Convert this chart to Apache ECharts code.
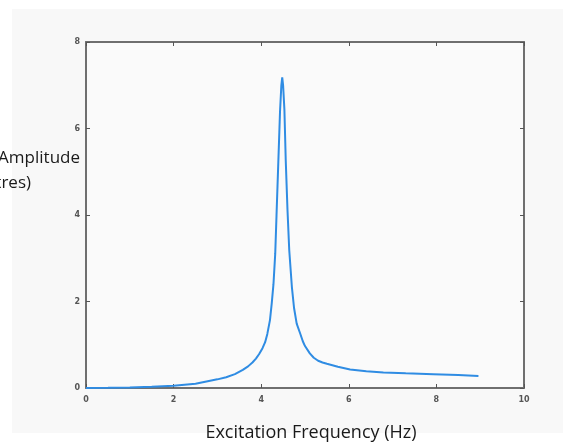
<!DOCTYPE html>
<html>
<head>
<meta charset="utf-8">
<script src="https://cdn.jsdelivr.net/npm/echarts@6/dist/echarts.min.js"></script>
<style>html,body{margin:0;padding:0;background:#fff;}#c{width:563px;height:444px;}</style>
</head>
<body>
<div id="c"></div>
<script>
var freqs = [0, 0.5, 1.0, 1.5, 2.0, 2.5, 3.0, 3.2, 3.4, 3.58, 3.7, 3.8, 3.88, 3.95, 4.03, 4.09, 4.14, 4.2, 4.24, 4.28, 4.32, 4.35, 4.39, 4.43, 4.46, 4.48, 4.50, 4.53, 4.56, 4.60, 4.64, 4.70, 4.75, 4.81, 4.89, 4.95, 5.0, 5.11, 5.2, 5.3, 5.4, 5.5, 5.75, 6.03, 6.4, 6.79, 7.3, 7.93, 8.5, 8.96];
var amps  = [0, 0.005, 0.012, 0.028, 0.05, 0.1, 0.2, 0.25, 0.32, 0.42, 0.5, 0.59, 0.68, 0.78, 0.92, 1.06, 1.25, 1.57, 1.95, 2.4, 3.1, 4.0, 5.2, 6.4, 7.0, 7.18, 7.0, 6.43, 5.27, 4.12, 3.19, 2.34, 1.85, 1.49, 1.26, 1.08, 0.97, 0.8, 0.7, 0.63, 0.59, 0.56, 0.49, 0.43, 0.39, 0.36, 0.34, 0.32, 0.30, 0.28];
var xTicks = [0, 2, 4, 6, 8, 10];
var yTicks = [0, 2, 4, 6, 8];
var xTitle = 'Excitation Frequency (Hz)';
var yTitle1 = 'Amplitude';
var yTitle2 = '(metres)';

var data = freqs.map(function (f, i) { return [f, amps[i]]; });
var chart = echarts.init(document.getElementById('c'), null, {renderer: 'canvas'});
var tickLabel = {fontSize: 8, fontWeight: 'bold', color: '#555', fontFamily: 'DejaVu Sans'};
var tickStyle = {show: true, inside: true, length: 4, lineStyle: {color: '#555', width: 1}};
var lineStyle = {show: true, onZero: false, lineStyle: {color: '#6f6f6f', width: 2}};
chart.setOption({
  animation: false,
  backgroundColor: '#ffffff',
  graphic: [
    {type: 'rect', z: -10, shape: {x: 12, y: 9, width: 551, height: 424}, style: {fill: '#f8f8f8'}},
    {type: 'text', z: 10, style: {text: yTitle1, x: 80, y: 158, align: 'right', verticalAlign: 'middle', font: '17px "Open Sans"', fill: '#1a1a1a'}},
    {type: 'text', z: 10, style: {text: yTitle2, x: 31, y: 183, align: 'right', verticalAlign: 'middle', font: '17px "Open Sans"', fill: '#1a1a1a'}},
    {type: 'text', z: 10, style: {text: xTitle, x: 311, y: 433, align: 'center', verticalAlign: 'middle', font: '18px "Open Sans"', fill: '#1a1a1a'}}
  ],
  grid: {left: 86, top: 42, width: 438, height: 346, show: true, borderWidth: 0, backgroundColor: '#fafafa'},
  xAxis: [
    {type: 'value', show: true, min: 0, max: 10, interval: 2, position: 'bottom',
     axisLine: lineStyle, splitLine: {show: false},
     axisTick: tickStyle,
     axisLabel: Object.assign({margin: 8}, tickLabel)},
    {type: 'value', show: true, min: 0, max: 10, interval: 2, position: 'top',
     axisLine: lineStyle, splitLine: {show: false}, axisLabel: {show: false},
     axisTick: tickStyle}
  ],
  yAxis: [
    {type: 'value', show: true, min: 0, max: 8, interval: 2, position: 'left',
     axisLine: lineStyle, splitLine: {show: false},
     axisTick: tickStyle,
     axisLabel: Object.assign({margin: 6}, tickLabel)},
    {type: 'value', show: true, min: 0, max: 8, interval: 2, position: 'right',
     axisLine: lineStyle, splitLine: {show: false}, axisLabel: {show: false},
     axisTick: tickStyle}
  ],
  series: [{
    type: 'line', data: data, showSymbol: false, smooth: false, clip: false,
    lineStyle: {color: '#2f8ce3', width: 2}, z: 5
  }]
});
</script>
</body>
</html>
